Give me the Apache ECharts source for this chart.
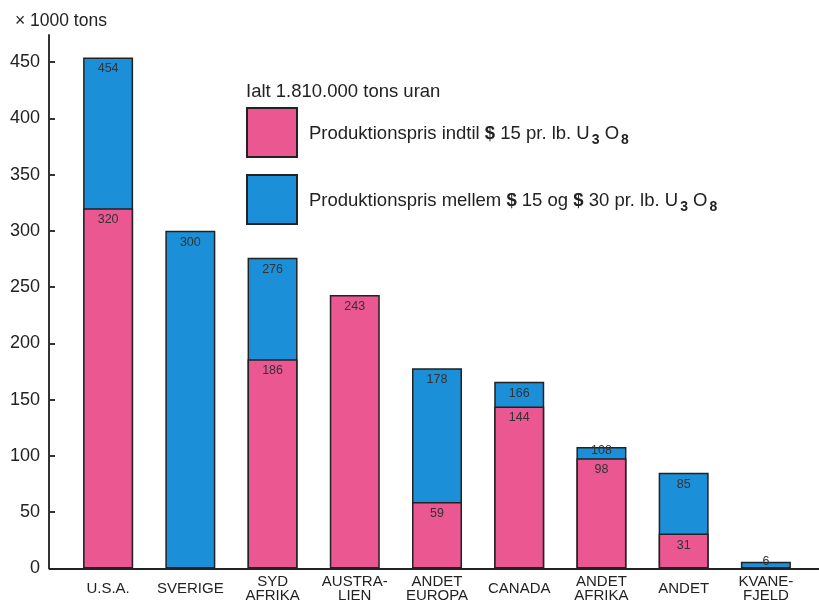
<!DOCTYPE html>
<html>
<head>
<meta charset="utf-8">
<script src="https://cdn.jsdelivr.net/npm/echarts@6/dist/echarts.min.js"></script>
<style>
  html, body { margin: 0; padding: 0; background: #fff; }
  #chart { width: 819px; height: 603px; }
</style>
</head>
<body>
<div id="chart"></div>
<script>
// Uranium reserves by region (x 1000 tons)
const categories = ['U.S.A.', 'SVERIGE', 'SYD\nAFRIKA', 'AUSTRA-\nLIEN', 'ANDET\nEUROPA',
                    'CANADA', 'ANDET\nAFRIKA', 'ANDET', 'KVANE-\nFJELD'];
// Reserves at production cost up to $15 per lb U3O8
const below15 = [320, null, 186, 243, 59, 144, 98, 31, null];
// Total reserves up to $30 per lb U3O8 (top of the blue part)
const upTo30 = [454, 300, 276, null, 178, 166, 108, 85, 6];
const yTicks = [0, 50, 100, 150, 200, 250, 300, 350, 400, 450];

const PINK = '#ea5791';
const BLUE = '#1b8fd8';
const INK = '#222';
const FONT = '"Liberation Sans", Arial, sans-serif';

const nameLow = 'Produktionspris indtil $ 15 pr. lb. U3 O8';
const nameHigh = 'Produktionspris mellem $ 15 og $ 30 pr. lb. U3 O8';

// labels for the thin blue caps sit across the top edge
const capLabel = { 6: { position: 'top', distance: -10 }, 8: { position: 'top', distance: -6 } };

const barLabel = {
  show: true, position: 'insideTop', distance: 5,
  fontFamily: FONT, fontSize: 12.5, color: '#333'
};

const chart = echarts.init(document.getElementById('chart'));

chart.setOption({
  animation: false,
  backgroundColor: '#fff',
  textStyle: { fontFamily: FONT },
  title: [
    { text: '\u00d7 1000 tons', left: 10, top: 7,
      textStyle: { fontFamily: FONT, fontSize: 17.5, fontWeight: 'normal', color: INK } },
    { text: 'Ialt 1.810.000 tons uran', left: 241, top: 77,
      textStyle: { fontFamily: FONT, fontSize: 18.5, fontWeight: 'normal', color: INK } }
  ],
  legend: {
    orient: 'vertical', left: 241, top: 102,
    itemWidth: 50, itemHeight: 49, itemGap: 16,
    icon: 'rect',
    selectedMode: false,
    data: [nameLow, nameHigh],
    formatter: function (name) {
      if (name === nameLow) {
        return '{t|Produktionspris indtil }{b|$}{t| 15 pr. lb. U}{s|3}{t| O}{s|8}';
      }
      return '{t|Produktionspris mellem }{b|$}{t| 15 og }{b|$}{t| 30 pr. lb. U}{s|3}{t| O}{s|8}';
    },
    textStyle: {
      padding: [0, 0, 0, 7],
      rich: {
        t: { fontFamily: FONT, fontSize: 18.5, color: INK, lineHeight: 22, verticalAlign: 'bottom' },
        b: { fontFamily: FONT, fontSize: 18.5, color: INK, fontWeight: 'bold', lineHeight: 22, verticalAlign: 'bottom' },
        s: { fontFamily: FONT, fontSize: 14, color: INK, fontWeight: 'bold', lineHeight: 22,
             verticalAlign: 'bottom', padding: [0, 0, -4, 2] }
      }
    }
  },
  grid: { left: 67, right: 12, top: 35, bottom: 34, containLabel: false },
  xAxis: {
    type: 'category',
    data: categories,
    axisLine: { show: true, lineStyle: { color: INK, width: 2 } },
    axisTick: { show: false },
    axisLabel: {
      interval: 0, margin: 20, verticalAlign: 'middle',
      fontFamily: FONT, fontSize: 15, lineHeight: 14, color: INK
    },
    splitLine: { show: false }
  },
  yAxis: {
    type: 'value',
    min: 0, max: 474,
    offset: 18,
    axisLine: { show: true, lineStyle: { color: '#333', width: 2 } },
    axisTick: { show: true, inside: true, length: 6, customValues: yTicks,
                lineStyle: { color: '#333', width: 2 } },
    axisLabel: { customValues: yTicks, margin: 9, fontFamily: FONT, fontSize: 18, color: INK },
    splitLine: { show: false }
  },
  series: [
    {
      name: nameHigh,
      type: 'bar',
      barWidth: 50,
      barGap: '-100%',
      itemStyle: { color: BLUE, borderColor: INK, borderWidth: 1.5 },
      label: barLabel,
      data: upTo30.map(function (v, i) {
        return capLabel[i] ? { value: v, label: capLabel[i] } : v;
      })
    },
    {
      name: nameLow,
      type: 'bar',
      barWidth: 50,
      barGap: '-100%',
      itemStyle: { color: PINK, borderColor: INK, borderWidth: 1.5 },
      label: barLabel,
      data: below15
    }
  ]
});

// carry the base line out to the y axis on the left and to the right edge
function extendBaseLine() {
  const y0 = Math.round(chart.convertToPixel({ yAxisIndex: 0 }, 0));
  const rect = chart.getModel().getComponent('grid').coordinateSystem.getRect();
  const axisX = rect.x - 18;
  chart.setOption({
    graphic: [
      { type: 'line', shape: { x1: axisX, y1: y0, x2: rect.x + 1, y2: y0 },
        style: { stroke: INK, lineWidth: 2 }, z: 5 },
      { type: 'line', shape: { x1: rect.x + rect.width - 1, y1: y0, x2: 819, y2: y0 },
        style: { stroke: INK, lineWidth: 2 }, z: 5 }
    ]
  });
}
extendBaseLine();
</script>
</body>
</html>
